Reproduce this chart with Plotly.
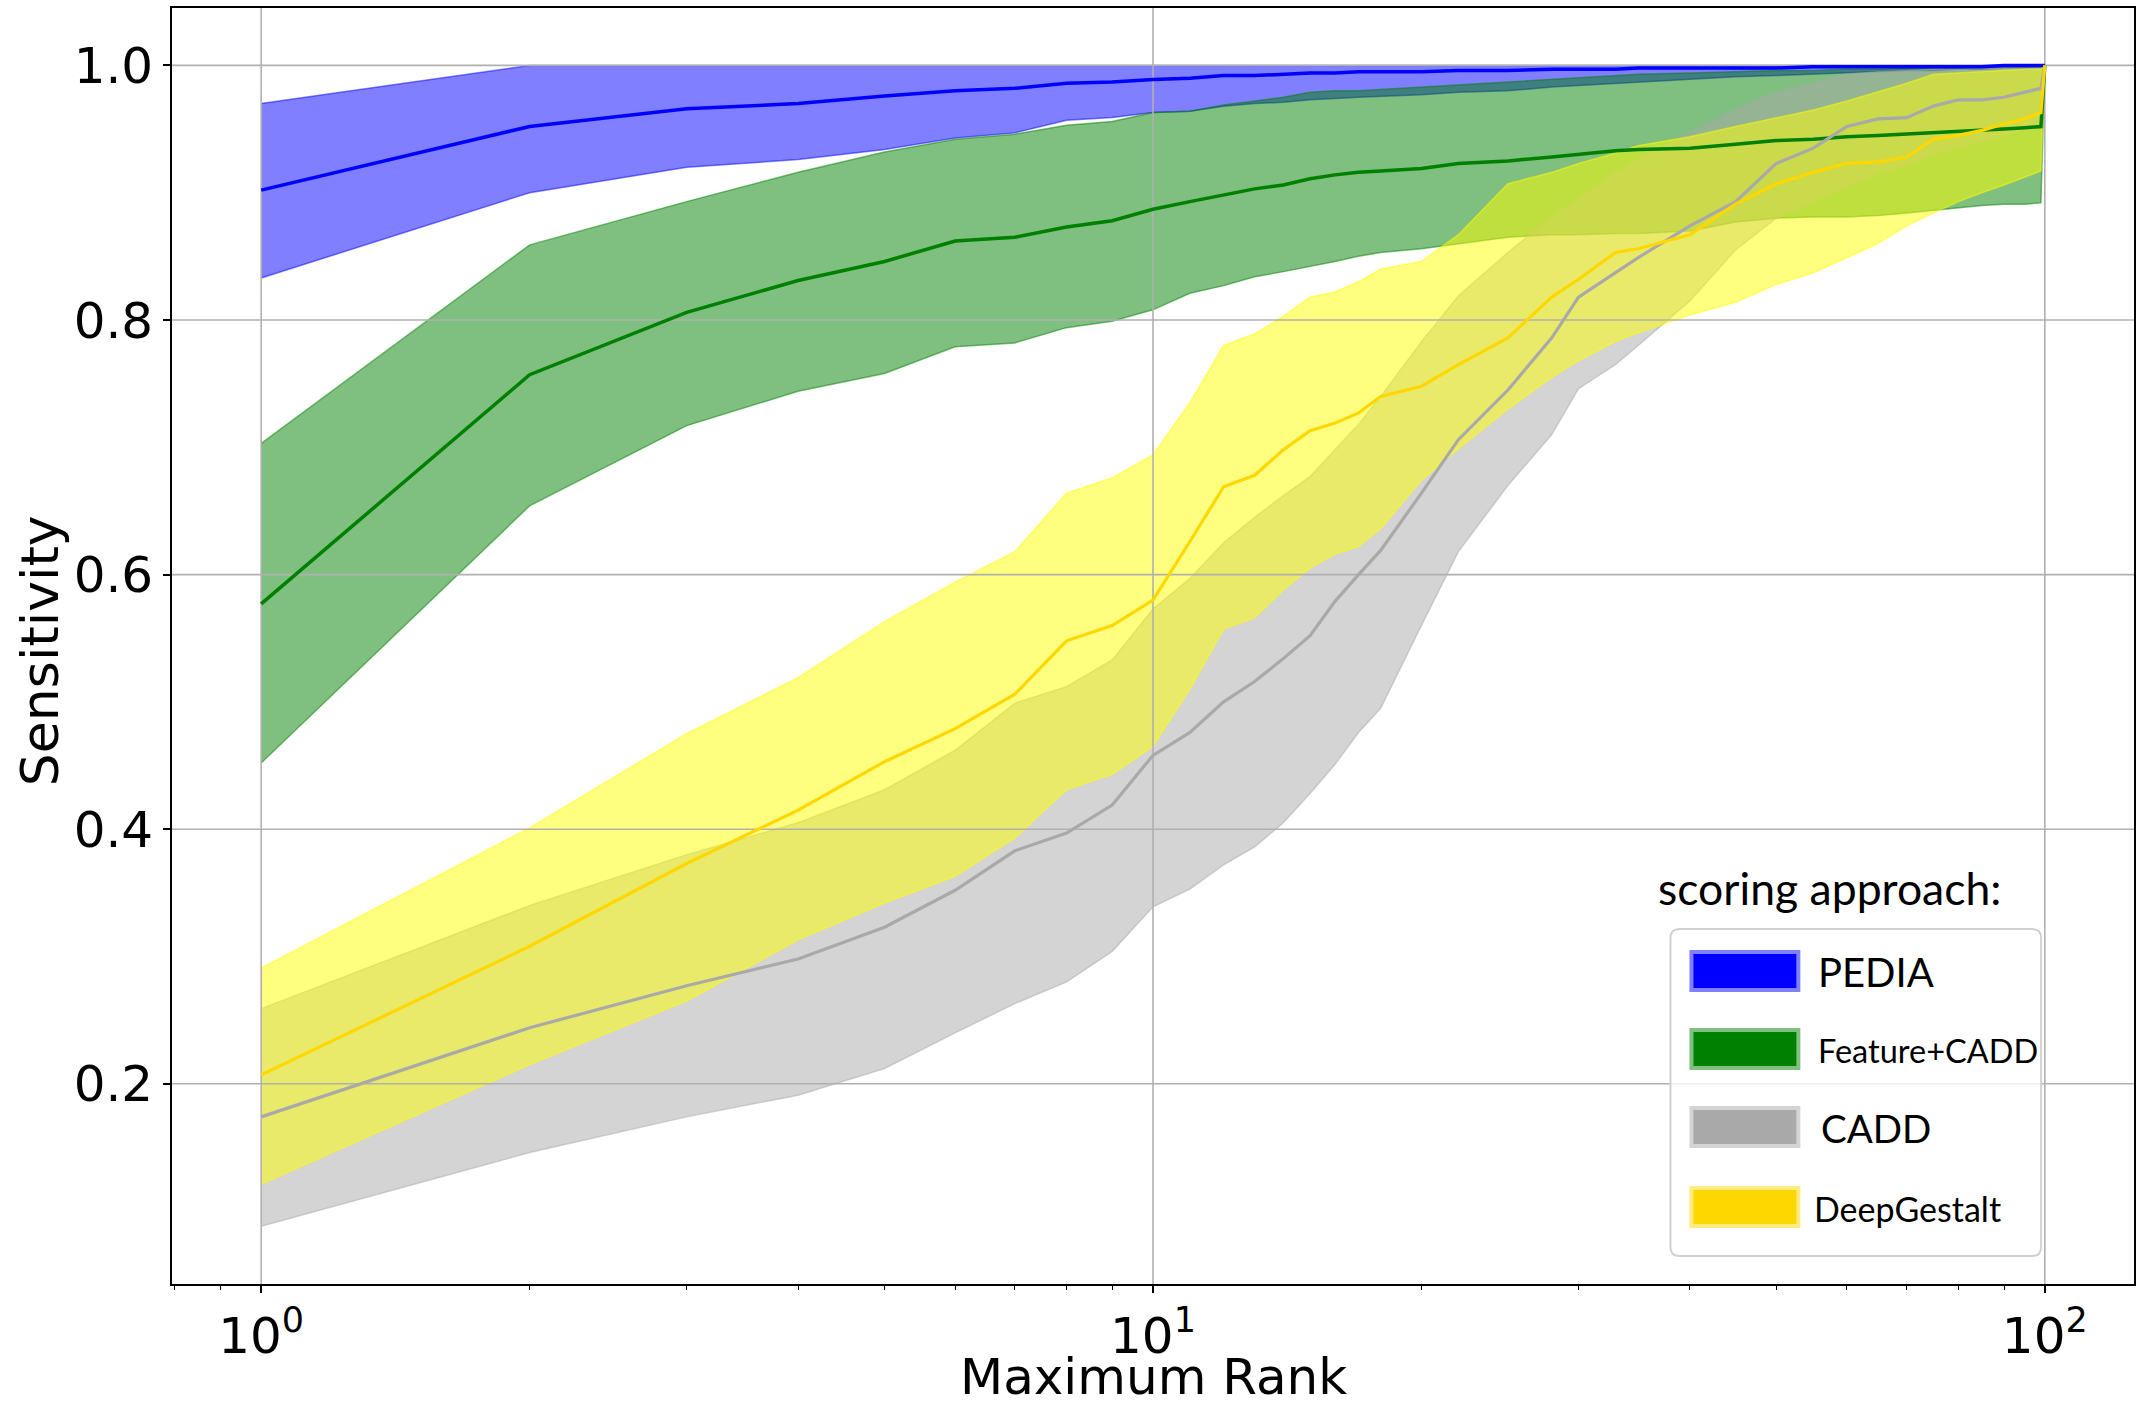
import plotly.graph_objects as go

# ---------------------------------------------------------------------------
# Sensitivity of each scoring approach as a function of the maximum rank
# (mean curve plus a lower / upper band for every approach)
# ---------------------------------------------------------------------------
ranks = [1, 2, 3, 4, 5, 6, 7, 8, 9, 10, 11, 12, 13, 14, 15, 16, 17, 18,
         20, 22, 25, 28, 30, 33, 35, 40, 45, 50, 55, 60, 65, 70, 75, 80, 85, 90, 95, 99, 100]

pedia_mean = [0.902, 0.952, 0.966, 0.970, 0.976, 0.980, 0.982, 0.986, 0.987, 0.989, 0.990, 0.992,
              0.992, 0.993, 0.994, 0.994, 0.995, 0.995,
              0.995, 0.996, 0.996, 0.997, 0.997, 0.997, 0.998, 0.998, 0.998, 0.998, 0.999, 0.999,
              0.999, 0.999, 0.999, 0.999, 0.999, 1.0, 1.0, 1.0, 1.0]
pedia_upper = [0.970] + [1.0] * 38
pedia_lower = [0.833, 0.900, 0.920, 0.926, 0.934, 0.943, 0.947, 0.957, 0.959, 0.963, 0.964, 0.968,
               0.970, 0.971, 0.973, 0.974, 0.975, 0.976,
               0.977, 0.979, 0.980, 0.983, 0.984, 0.986, 0.987, 0.989, 0.991, 0.992, 0.993, 0.994,
               0.995, 0.996, 0.996, 0.997, 0.997, 0.998, 0.998, 0.999, 1.0]

feature_mean = [0.577, 0.757, 0.806, 0.831, 0.846, 0.862, 0.865, 0.873, 0.878, 0.887, 0.893, 0.898,
                0.903, 0.906, 0.911, 0.914, 0.916, 0.917,
                0.919, 0.923, 0.925, 0.928, 0.930, 0.933, 0.934, 0.935, 0.938, 0.941, 0.942, 0.944,
                0.945, 0.946, 0.947, 0.948, 0.949, 0.950, 0.951, 0.952, 1.0]
feature_upper = [0.703, 0.859, 0.893, 0.916, 0.932, 0.942, 0.946, 0.953, 0.956, 0.963, 0.964, 0.969,
                 0.972, 0.975, 0.979, 0.980, 0.980, 0.981,
                 0.983, 0.985, 0.987, 0.989, 0.990, 0.992, 0.993, 0.994, 0.995, 0.996, 0.996, 0.997,
                 0.997, 0.998, 0.998, 0.998, 0.999, 0.999, 0.999, 0.999, 1.0]
feature_lower = [0.452, 0.654, 0.717, 0.744, 0.758, 0.779, 0.782, 0.794, 0.799, 0.808, 0.821, 0.827,
                 0.834, 0.838, 0.842, 0.846, 0.850, 0.853,
                 0.856, 0.860, 0.865, 0.867, 0.867, 0.868, 0.868, 0.870, 0.877, 0.880, 0.881, 0.881,
                 0.882, 0.884, 0.886, 0.888, 0.890, 0.891, 0.891, 0.892, 1.0]

cadd_mean = [0.174, 0.244, 0.277, 0.298, 0.323, 0.352, 0.383, 0.397, 0.419, 0.458, 0.476, 0.500,
             0.516, 0.534, 0.552, 0.579, 0.600, 0.619,
             0.664, 0.706, 0.745, 0.786, 0.818, 0.837, 0.849, 0.874, 0.893, 0.923, 0.935, 0.952,
             0.958, 0.959, 0.968, 0.973, 0.973, 0.975, 0.979, 0.982, 1.0]
cadd_upper = [0.259, 0.340, 0.380, 0.405, 0.431, 0.462, 0.499, 0.512, 0.533, 0.573, 0.597, 0.625,
              0.645, 0.662, 0.677, 0.698, 0.718, 0.740,
              0.783, 0.819, 0.853, 0.881, 0.896, 0.916, 0.926, 0.947, 0.966, 0.979, 0.986, 0.993,
              0.995, 0.996, 0.997, 0.997, 0.998, 0.998, 0.998, 0.998, 1.0]
cadd_lower = [0.088, 0.146, 0.174, 0.191, 0.212, 0.240, 0.263, 0.280, 0.304, 0.339, 0.353, 0.372,
              0.386, 0.405, 0.428, 0.451, 0.476, 0.495,
              0.560, 0.618, 0.670, 0.710, 0.746, 0.765, 0.780, 0.815, 0.855, 0.880, 0.893, 0.905,
              0.915, 0.922, 0.930, 0.935, 0.940, 0.945, 0.950, 0.955, 1.0]

gestalt_mean = [0.207, 0.308, 0.373, 0.415, 0.453, 0.479, 0.506, 0.548, 0.560, 0.580, 0.626, 0.669,
                0.678, 0.698, 0.713, 0.719, 0.727, 0.740,
                0.748, 0.765, 0.786, 0.818, 0.832, 0.853, 0.856, 0.867, 0.891, 0.907, 0.916, 0.923,
                0.924, 0.928, 0.942, 0.945, 0.949, 0.954, 0.958, 0.963, 1.0]
gestalt_upper = [0.291, 0.401, 0.475, 0.519, 0.563, 0.594, 0.618, 0.664, 0.676, 0.694, 0.735, 0.780,
                 0.789, 0.803, 0.818, 0.822, 0.830, 0.840,
                 0.846, 0.867, 0.907, 0.916, 0.923, 0.931, 0.937, 0.944, 0.952, 0.959, 0.965, 0.972,
                 0.979, 0.986, 0.993, 0.994, 0.995, 0.996, 0.997, 0.997, 1.0]
gestalt_lower = [0.121, 0.215, 0.265, 0.313, 0.342, 0.363, 0.393, 0.431, 0.443, 0.465, 0.510, 0.557,
                 0.566, 0.588, 0.605, 0.616, 0.622, 0.636,
                 0.674, 0.699, 0.730, 0.755, 0.768, 0.783, 0.790, 0.804, 0.814, 0.828, 0.837, 0.849,
                 0.860, 0.874, 0.884, 0.893, 0.900, 0.906, 0.912, 0.917, 1.0]

approach_names = ["PEDIA", "Feature+CADD", "CADD", "DeepGestalt"]
line_colors = ["#0000FF", "#008000", "#A9A9A9", "#FFD700"]
line_widths = [3.5, 3.5, 3.2, 3.2]
band_colors = ["rgba(0,0,255,0.5)", "rgba(0,128,0,0.5)", "rgba(169,169,169,0.5)", "rgba(255,255,0,0.5)"]
legend_fill = ["#0000FF", "#008000", "#A9A9A9", "#FFD700"]
legend_edge = ["rgba(0,0,255,0.5)", "rgba(0,128,0,0.5)", "rgba(169,169,169,0.5)", "rgba(255,215,0,0.5)"]
legend_font_sizes = [40, 32.5, 38.5, 34]

means = [pedia_mean, feature_mean, cadd_mean, gestalt_mean]
uppers = [pedia_upper, feature_upper, cadd_upper, gestalt_upper]
lowers = [pedia_lower, feature_lower, cadd_lower, gestalt_lower]

y_ticks = [0.2, 0.4, 0.6, 0.8, 1.0]
x_ticks = [1, 10, 100]
x_tick_text = ["10<sup>0</sup>", "10<sup>1</sup>", "10<sup>2</sup>"]
x_minor_ticks = [0.8, 0.9, 2, 3, 4, 5, 6, 7, 8, 9, 20, 30, 40, 50, 60, 70, 80, 90]

# ---------------------------------------------------------------------------
# Canvas geometry
# ---------------------------------------------------------------------------
W, H = 2136, 1406
M_L, M_R, M_T, M_B = 172, 0, 8, 122
PLOT_L, PLOT_R, PLOT_T, PLOT_B = M_L, W - M_R, M_T, H - M_B
X_RANGE = [-0.1, 2.1]          # log10 units
Y_RANGE = [0.0427, 1.0451]

TICK_FONT = dict(family="DejaVu Sans", size=50, color="black")
LEGEND_FAMILY = "Lato"


def px_x(px):
    return (px - PLOT_L) / (PLOT_R - PLOT_L)


def px_y(py):
    return (PLOT_B - py) / (PLOT_B - PLOT_T)


fig = go.Figure()

# shaded bands (drawn first, below grid and mean curves)
for name, lo, hi, band in zip(approach_names, lowers, uppers, band_colors):
    fig.add_trace(go.Scatter(
        x=ranks + ranks[::-1], y=hi + lo[::-1],
        mode="lines", fill="toself", fillcolor=band,
        line=dict(color=band, width=1.5),
        hoverinfo="skip", showlegend=False, name=name,
    ))

# grid lines sit above the bands and below the mean curves
x_lo, x_hi = 10 ** X_RANGE[0], 10 ** X_RANGE[1]
for v in y_ticks:
    fig.add_trace(go.Scatter(x=[x_lo, x_hi], y=[v, v], mode="lines",
                             line=dict(color="#b0b0b0", width=1.6),
                             hoverinfo="skip", showlegend=False))
for v in x_ticks:
    fig.add_trace(go.Scatter(x=[v, v], y=Y_RANGE, mode="lines",
                             line=dict(color="#b0b0b0", width=1.6),
                             hoverinfo="skip", showlegend=False))

# mean curves
for name, mean, col, lw in zip(approach_names, means, line_colors, line_widths):
    fig.add_trace(go.Scatter(
        x=ranks, y=mean, mode="lines", name=name,
        line=dict(color=col, width=lw),
        showlegend=False,
    ))

# ---------------------------------------------------------------------------
# Hand-built legend with a title above it
# ---------------------------------------------------------------------------
shapes = []
bx0, bx1, by0, by1, rad = 1672, 2043, 929, 1256, 9
rx = rad / (PLOT_R - PLOT_L)
ry = rad / (PLOT_B - PLOT_T)
X0, X1, Y0, Y1 = px_x(bx0), px_x(bx1), px_y(by1), px_y(by0)
path = (f"M {X0 + rx},{Y0} L {X1 - rx},{Y0} Q {X1},{Y0} {X1},{Y0 + ry} "
        f"L {X1},{Y1 - ry} Q {X1},{Y1} {X1 - rx},{Y1} "
        f"L {X0 + rx},{Y1} Q {X0},{Y1} {X0},{Y1 - ry} "
        f"L {X0},{Y0 + ry} Q {X0},{Y0} {X0 + rx},{Y0} Z")
shapes.append(dict(type="path", xref="paper", yref="paper", path=path,
                   fillcolor="rgba(255,255,255,0.8)",
                   line=dict(color="rgba(204,204,204,0.9)", width=2), layer="above"))

patch_centers = [971, 1049, 1127, 1207]
text_left = [1818, 1818, 1821, 1814]
annotations = []
for name, cy, fcol, ecol, tl, fs in zip(approach_names, patch_centers, legend_fill,
                                       legend_edge, text_left, legend_font_sizes):
    shapes.append(dict(type="rect", xref="paper", yref="paper",
                       x0=px_x(1695), x1=px_x(1798), y0=px_y(cy + 17), y1=px_y(cy - 17),
                       fillcolor=fcol, line=dict(color=ecol, width=8), layer="above"))
    annotations.append(dict(text=name, xref="paper", yref="paper", x=px_x(tl), y=px_y(cy + 1),
                            xanchor="left", yanchor="middle", showarrow=False,
                            font=dict(family=LEGEND_FAMILY, size=fs, color="black")))

annotations.append(dict(text="scoring approach:", xref="paper", yref="paper",
                        x=px_x(1658), y=px_y(887), xanchor="left", yanchor="middle",
                        showarrow=False, font=dict(family=LEGEND_FAMILY, size=44.5, color="black")))

# axis titles
annotations.append(dict(text="Sensitivity", xref="paper", yref="paper",
                        x=px_x(40), y=px_y(651), xanchor="center", yanchor="middle",
                        textangle=-90, showarrow=False,
                        font=dict(family="DejaVu Sans", size=52, color="black")))
annotations.append(dict(text="Maximum Rank", xref="paper", yref="paper",
                        x=px_x(1155), y=px_y(1377), xanchor="center", yanchor="middle",
                        showarrow=False, borderpad=0, borderwidth=0,
                        font=dict(family="DejaVu Sans", size=50, color="black")))

fig.update_layout(
    width=W, height=H,
    margin=dict(l=M_L, r=M_R, t=M_T, b=M_B, pad=0),
    paper_bgcolor="white", plot_bgcolor="white",
    showlegend=False,
    shapes=shapes, annotations=annotations,
    xaxis=dict(
        type="log", range=X_RANGE, showgrid=False, zeroline=False,
        tickmode="array", tickvals=x_ticks, ticktext=x_tick_text,
        ticks="outside", ticklen=7, tickwidth=1.5, tickcolor="black",
        tickfont=TICK_FONT,
        minor=dict(tickmode="array", tickvals=x_minor_ticks, ticks="outside",
                   ticklen=4, tickwidth=1.2, tickcolor="black", showgrid=False),
        showline=True, linecolor="black", linewidth=1.6, mirror=True,
    ),
    yaxis=dict(
        range=Y_RANGE, showgrid=False, zeroline=False,
        tickmode="array", tickvals=y_ticks, ticktext=[f"{v:.1f}" for v in y_ticks],
        ticks="outside", ticklen=7, tickwidth=1.5, tickcolor="black",
        tickfont=TICK_FONT,
        showline=True, linecolor="black", linewidth=1.6, mirror=True,
    ),
)

fig.write_html("out.html")
